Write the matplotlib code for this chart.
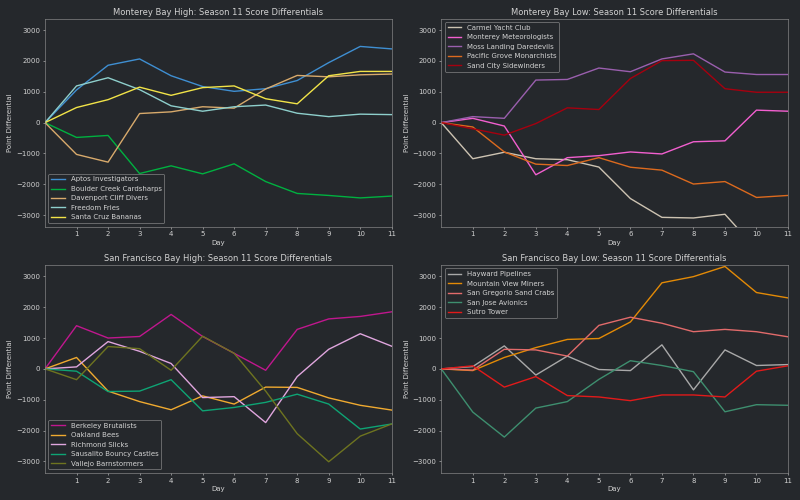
import matplotlib
matplotlib.use('Agg')
import matplotlib.pyplot as plt

days = list(range(12))

titles = [
    'Monterey Bay High: Season 11 Score Differentials',
    'Monterey Bay Low: Season 11 Score Differentials',
    'San Francisco Bay High: Season 11 Score Differentials',
    'San Francisco Bay Low: Season 11 Score Differentials',
]

# Monterey Bay High
mbh_teams = ['Aptos Investigators', 'Boulder Creek Cardsharps', 'Davenport Cliff Divers',
             'Freedom Fries', 'Santa Cruz Bananas']
mbh_values = [
    [0, 1060, 1860, 2065, 1520, 1170, 1015, 1100, 1365, 1945, 2470, 2390],
    [0, -480, -415, -1650, -1400, -1660, -1335, -1910, -2295, -2360, -2440, -2380],
    [0, -1030, -1280, 295, 350, 515, 470, 1090, 1530, 1485, 1550, 1575],
    [0, 1190, 1455, 1070, 545, 370, 515, 570, 305, 195, 275, 260],
    [0, 490, 745, 1150, 885, 1135, 1190, 775, 610, 1520, 1660, 1660],
]
mbh_colors = ['#3f8fd2', '#00b140', '#d8aa6c', '#8ecfcc', '#f2e448']

# Monterey Bay Low
mbl_teams = ['Carmel Yacht Club', 'Monterey Meteorologists', 'Moss Landing Daredevils',
             'Pacific Grove Monarchists', 'Sand City Sidewinders']
mbl_values = [
    [0, -1170, -960, -1170, -1200, -1440, -2460, -3070, -3090, -2970, -4100, -4000],
    [0, 140, -110, -1690, -1135, -1070, -950, -1015, -620, -590, 405, 370],
    [0, 195, 140, 1380, 1400, 1770, 1650, 2065, 2230, 1640, 1560, 1560],
    [0, -140, -950, -1345, -1390, -1135, -1445, -1540, -1990, -1910, -2425, -2360],
    [0, -200, -405, -30, 480, 425, 1430, 2010, 2020, 1100, 985, 985],
]
mbl_colors = ['#cdc3b2', '#f25fcf', '#9a5fae', '#dc6a1e', '#a6000f']

# San Francisco Bay High
sfh_teams = ['Berkeley Brutalists', 'Oakland Bees', 'Richmond Slicks',
             'Sausalito Bouncy Castles', 'Vallejo Barnstormers']
sfh_values = [
    [0, 1400, 1000, 1050, 1765, 1050, 505, -45, 1280, 1620, 1700, 1850],
    [0, 370, -720, -1060, -1325, -875, -1140, -590, -600, -940, -1180, -1335],
    [0, 65, 885, 570, 175, -930, -900, -1740, -250, 635, 1140, 735],
    [0, -75, -735, -720, -350, -1360, -1250, -1085, -820, -1140, -1950, -1785],
    [0, -350, 725, 655, -45, 1060, 505, -720, -2100, -3010, -2180, -1785],
]
sfh_colors = ['#c0178e', '#f0aa30', '#e0a6de', '#0ea474', '#6e7420']

# San Francisco Bay Low
sfl_teams = ['Hayward Pipelines', 'Mountain View Miners', 'San Gregorio Sand Crabs',
             'San Jose Avionics', 'Sutro Tower']
sfl_values = [
    [0, 75, 745, -200, 415, -20, -55, 780, -680, 615, 110, 140],
    [0, -55, 370, 690, 955, 985, 1520, 2790, 2990, 3320, 2475, 2300],
    [0, -40, 635, 615, 415, 1410, 1675, 1480, 1205, 1280, 1205, 1040],
    [0, -1400, -2210, -1270, -1060, -340, 265, 110, -90, -1390, -1160, -1180],
    [0, 100, -590, -250, -865, -910, -1030, -845, -845, -910, -75, 100],
]
sfl_colors = ['#a9a9a9', '#e38a06', '#e26b6b', '#3e8f6f', '#e21a1a']

groups = [
    (mbh_teams, mbh_values, mbh_colors, 'lower left'),
    (mbl_teams, mbl_values, mbl_colors, 'upper left'),
    (sfh_teams, sfh_values, sfh_colors, 'lower left'),
    (sfl_teams, sfl_values, sfl_colors, 'upper left'),
]

bg = '#25282c'
fg = '#d2d2d2'
edge = '#9a9a9a'

plt.rcParams.update({
    'figure.facecolor': bg,
    'axes.facecolor': bg,
    'axes.edgecolor': edge,
    'axes.labelcolor': fg,
    'text.color': fg,
    'xtick.color': fg,
    'ytick.color': fg,
    'legend.edgecolor': edge,
    'legend.facecolor': bg,
})

fig, axes = plt.subplots(2, 2, figsize=(16, 10), dpi=50)

for ax, title, (teams, values, colors, loc) in zip(axes.flat, titles, groups):
    for team, vals, color in zip(teams, values, colors):
        ax.plot(days, vals, color=color, label=team, linewidth=2)
    ax.set_title(title, color=fg)
    ax.set_xlabel('Day')
    ax.set_ylabel('Point Differential')
    ax.set_xlim(0, 11)
    ax.set_ylim(-3370, 3370)
    ax.set_xticks(range(1, 12))
    ax.set_yticks([-3000, -2000, -1000, 0, 1000, 2000, 3000])
    ax.legend(loc=loc)

plt.tight_layout()
plt.savefig('out.png', dpi=50, facecolor=bg)
